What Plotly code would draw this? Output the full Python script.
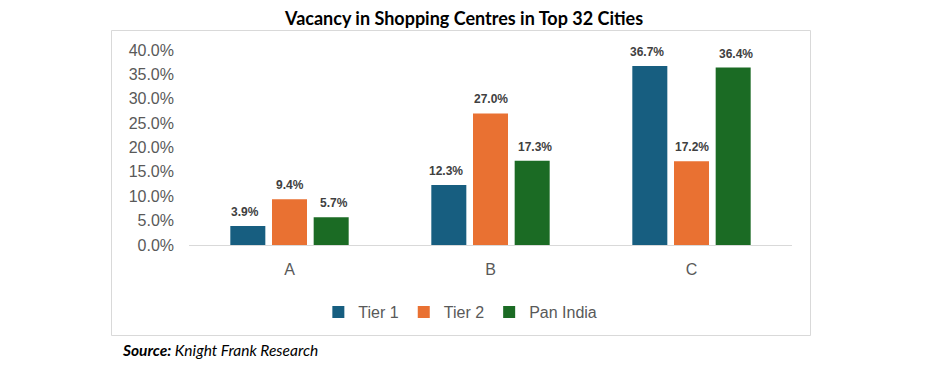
import plotly.graph_objects as go

categories = ["A", "B", "C"]
series_names = ["Tier 1", "Tier 2", "Pan India"]
tier1 = [3.9, 12.3, 36.7]
tier2 = [9.4, 27.0, 17.2]
pan_india = [5.7, 17.3, 36.4]
colors = ["#175E80", "#E97132", "#1B6B24"]
y_ticks = [0, 5, 10, 15, 20, 25, 30, 35, 40]
y_tick_labels = [f"{v:.1f}%" for v in y_ticks]

title_text = "Vacancy in Shopping Centres in Top 32 Cities"
source_text = "<b>Source:</b> Knight Frank Research"

all_series = [tier1, tier2, pan_india]
offsets = [-45, 0, 44]

fig = go.Figure()
for name, vals, col in zip(series_names, all_series, colors):
    fig.add_trace(go.Bar(x=categories, y=vals, name=name, marker_color=col,
                         marker_line_width=0))

annotations = []
for vals, off in zip(all_series, offsets):
    for c, v in zip(categories, vals):
        annotations.append(dict(x=c, y=v, xref="x", yref="y", text=f"{v:.1f}%",
                                showarrow=False, xshift=off, yanchor="bottom", yshift=5,
                                font=dict(family="Liberation Sans, Arial", size=12,
                                          color="#404040", weight="bold")))

annotations.append(dict(x=0.5, y=(245 - 18) / 195, xref="paper", yref="paper",
                        xanchor="center", yanchor="middle", text=f"<b>{title_text}</b>",
                        showarrow=False, xshift=(463 - 490.5),
                        font=dict(family="Lato", size=18, color="#000000")))
annotations.append(dict(x=(120 - 189) / 603, y=(245 - 350) / 195, xref="paper", yref="paper",
                        xanchor="left", yanchor="middle", text=f"<i>{source_text}</i>",
                        showarrow=False,
                        font=dict(family="Lato", size=15.5, color="#000000")))

fig.update_layout(
    width=929, height=372,
    margin=dict(l=181, r=145, t=42, b=135),
    paper_bgcolor="white", plot_bgcolor="white",
    barmode="group", bargap=0.378, bargroupgap=0.16,
    showlegend=True,
    legend=dict(orientation="h", x=0.45, y=(245 - 312) / 195, xanchor="center",
                yanchor="middle", font=dict(family="Liberation Sans, Arial", size=16,
                                             color="#595959"),
                itemwidth=30, tracegroupgap=0, bgcolor="rgba(0,0,0,0)"),
    annotations=annotations,
    shapes=[dict(type="rect", xref="paper", yref="paper",
                 x0=(111.5 - 189) / 603, x1=(810.5 - 189) / 603,
                 y0=(245 - 335.5) / 195, y1=(245 - 30.5) / 195,
                 line=dict(color="#D9D9D9", width=1), fillcolor="rgba(0,0,0,0)",
                 layer="below")],
    xaxis=dict(showline=True, linecolor="#D9D9D9", linewidth=1, showgrid=False,
               ticks="", ticklabelstandoff=10,
               tickfont=dict(family="Liberation Sans, Arial", size=16, color="#595959")),
    yaxis=dict(range=[0, 40], tickvals=y_ticks, ticktext=y_tick_labels,
               showgrid=False, zeroline=False, showline=False, ticks="",
               ticklabelstandoff=14,
               tickfont=dict(family="Liberation Sans, Arial", size=16, color="#595959")),
)

fig.write_html("out.html")
